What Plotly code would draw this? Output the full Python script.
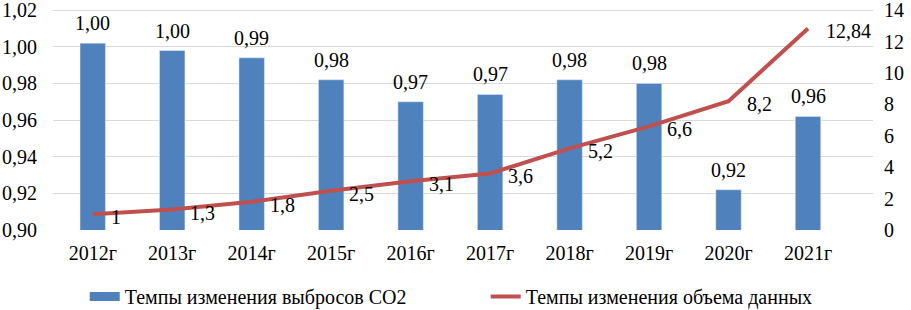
import plotly.graph_objects as go

years = ["2012г", "2013г", "2014г", "2015г", "2016г", "2017г", "2018г", "2019г", "2020г", "2021г"]
co2_rate = [1.002, 0.998, 0.994, 0.982, 0.970, 0.974, 0.982, 0.980, 0.922, 0.962]
data_rate = [1, 1.3, 1.8, 2.5, 3.1, 3.6, 5.2, 6.6, 8.2, 12.84]
left_ticks = [0.90, 0.92, 0.94, 0.96, 0.98, 1.00, 1.02]
right_ticks = [0, 2, 4, 6, 8, 10, 12, 14]

FONT = "'Times New Roman', 'Liberation Serif', 'DejaVu Serif', serif"
FS = 20
BLUE = "#4F81BD"
RED = "#C0504D"

fig = go.Figure()
fig.add_trace(go.Bar(
    x=years, y=co2_rate, name="Темпы изменения выбросов CO2",
    marker=dict(color=BLUE), showlegend=False, yaxis="y",
))
# legend stand-in for the bar series (wide flat swatch)
fig.add_trace(go.Scatter(
    x=[None], y=[None], mode="lines", name="Темпы изменения выбросов CO2",
    line=dict(color=BLUE, width=9), yaxis="y",
))
fig.add_trace(go.Scatter(
    x=years, y=data_rate, name="Темпы изменения объема данных",
    mode="lines", line=dict(color=RED, width=4), yaxis="y2",
))

annotations = []
for x, v in zip(years, co2_rate):
    annotations.append(dict(x=x, y=v, xref="x", yref="y", text=f"{v:.2f}".replace(".", ","),
                            showarrow=False, yanchor="middle", xanchor="center", yshift=20,
                            font=dict(size=FS, family=FONT, color="#000")))
for x, v in zip(years, data_rate):
    annotations.append(dict(x=x, y=v, xref="x", yref="y2", text=str(v).replace(".", ","),
                            showarrow=False, yanchor="middle", xanchor="left", xshift=16, yshift=-3,
                            font=dict(size=FS, family=FONT, color="#000")))

fig.update_layout(
    width=911, height=310,
    margin=dict(l=53, r=38, t=8, b=80, autoexpand=False),
    paper_bgcolor="white", plot_bgcolor="white",
    separators=", ",
    font=dict(family=FONT, size=FS, color="#000000"),
    bargap=0.68,
    showlegend=True,
    annotations=annotations,
    legend=dict(orientation="h", xref="container", x=0.093, xanchor="left",
                y=-0.30, yanchor="middle", font=dict(size=FS, family=FONT),
                entrywidth=356, traceorder="normal"),
    xaxis=dict(showgrid=False, showline=False, ticks="", ticklabelstandoff=9,
               tickfont=dict(size=FS, family=FONT)),
    yaxis=dict(range=[0.90, 1.0212], tickvals=left_ticks, tickformat=".2f",
               showgrid=True, gridcolor="#D9D9D9", gridwidth=1, zeroline=False,
               showline=False, ticklabelstandoff=15, ticklabeloverflow="allow",
               tickfont=dict(size=FS, family=FONT)),
    yaxis2=dict(range=[0, 14.14], tickvals=right_ticks, overlaying="y", side="right",
                showgrid=False, zeroline=False, showline=False,
                ticklabelstandoff=10, ticklabeloverflow="allow",
                tickfont=dict(size=FS, family=FONT)),
)

fig.write_html("out.html", config={"displayModeBar": False},
               post_script="document.body.style.margin='0';document.body.style.padding='0';")
